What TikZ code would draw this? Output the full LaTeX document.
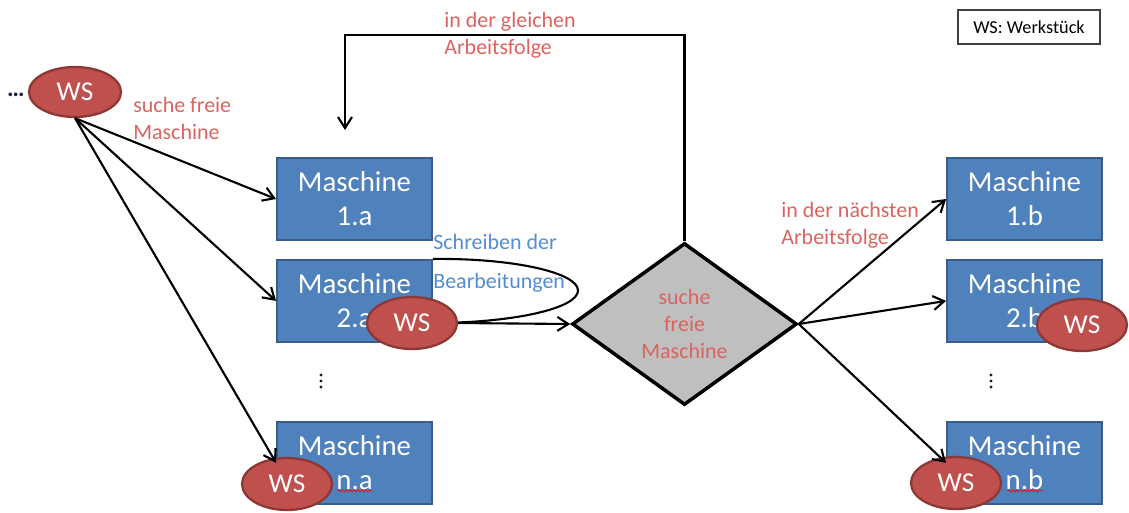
\documentclass[tikz,border=0pt]{standalone}
\usepackage{fontspec}
\setmainfont{Carlito}
\usetikzlibrary{shapes.geometric,arrows.meta,positioning,decorations.pathmorphing}
\definecolor{boxblue}{RGB}{79,129,189}
\definecolor{boxborder}{RGB}{56,93,138}
\definecolor{wsred}{RGB}{192,80,77}
\definecolor{wsborder}{RGB}{140,56,54}
\definecolor{notered}{RGB}{218,100,95}
\definecolor{noteblue}{RGB}{84,141,212}
\definecolor{diagray}{RGB}{191,191,191}
\definecolor{dotnavy}{RGB}{20,30,60}

\begin{document}
\begin{tikzpicture}[
 x=0.02cm, y=-0.02cm,
 maschine/.style={rectangle, draw=boxborder, fill=boxblue, line width=1.1pt, minimum width=3.1cm, minimum height=1.64cm, align=center, text=white, font=\fontsize{16.4}{19.4}\selectfont},
 ws/.style={ellipse, draw=wsborder, fill=wsred, line width=1.3pt, minimum width=1.8cm, minimum height=1.04cm, inner sep=0pt, text=white, font=\fontsize{15.5}{18}\selectfont},
 entscheid/.style={diamond, draw=black, fill=diagray, line width=2pt, minimum width=4.5cm, minimum height=3.24cm, aspect=1.39, inner sep=0pt, align=center, text=notered, font=\fontsize{12.5}{15.4}\selectfont},
 arrow/.style={-{Straight Barb[length=2.2mm,width=2.8mm]}, line width=1.2pt},
 hinweis/.style={anchor=west, align=left, inner sep=0pt, text=notered, font=\fontsize{12.5}{15.4}\selectfont},
 punkt/.style={fill=dotnavy},
 squiggle/.style={draw=red, line width=0.4pt, decorate, decoration={snake, amplitude=0.6pt, segment length=2.2pt}}
]
\useasboundingbox (0,0) rectangle (1129,512);

% Maschinen (a)
\node[maschine] (m1a) at (354.5,199) {Maschine\\1.a};
\node[maschine, below=0.36cm of m1a] (m2a) {Maschine\\2.a};
\node[maschine, below=1.56cm of m2a] (mna) {Maschine\\n.a};

% Maschinen (b)
\node[maschine] (m1b) at (1024.5,199) {Maschine\\1.b};
\node[maschine, below=0.36cm of m1b] (m2b) {Maschine\\2.b};
\node[maschine, below=1.56cm of m2b] (mnb) {Maschine\\n.b};

\foreach \px in {321,991}
 \foreach \py in {375,381,387}
  \fill[punkt] (\px,\py) circle[radius=1.6];

\draw[squiggle] (mna.center) ++(-17,28) -- ++(35,0);
\draw[squiggle] (mnb.center) ++(-17,28) -- ++(35,0);

% Entscheidung
\node[entscheid] (dia) at (684.5,324) {suche\\freie\\Maschine};

% Schleife
\coordinate (loopend) at (432,323);
\draw[line width=1.2pt] (m2a.north east) .. controls (512.6,258) and (578,272.5) .. (578,290.5)
 .. controls (578,308.5) and (512.6,323) .. (loopend);
\node[hinweis, text=noteblue] (schreiben) at (433,263.5) {Schreiben der\\[6.8pt]Bearbeitungen};

% Werkstuecke
\node[ws, minimum width=1.84cm, minimum height=1.0cm] (ws0) at (75,92) {WS};
\node[inner sep=0pt, text=dotnavy, font=\fontsize{14}{16}\selectfont\bfseries] (dots0) at (16,95) {\dots};
\node[ws] (ws2a) at (412,323) {WS};
\node[ws] (wsna) at (287,484) {WS};
\node[ws] (ws2b) at (1082,325) {WS};
\node[ws] (wsnb) at (956,483) {WS};

% Pfeile
\draw[arrow] (ws0.south) -- (m1a.west);
\draw[arrow] (ws0.south) -- (m2a.west);
\draw[arrow] (ws0.south) -- (mna.west);
\draw[arrow] (ws2a.east) -- (dia.west);
\draw[arrow] (dia.east) -- (m1b.west);
\draw[arrow] (dia.east) -- (m2b.west);
\draw[arrow] (dia.east) -- (mnb.west);

\coordinate (zurueck) at (345,130);
\draw[arrow] (dia.north) -- ++(0,-206) -| (zurueck);

% Beschriftungen
\node[hinweis] (suche) at (133,118.5) {suche freie\\Maschine};
\node[hinweis] (gleich) at (444,35.5) {in der gleichen\\Arbeitsfolge};
\node[hinweis] (naechst) at (781,225.5) {in der nächsten\\Arbeitsfolge};

% Legende
\node[draw=black!75, line width=0.8pt, minimum width=2.84cm, minimum height=0.68cm, font=\fontsize{10.4}{12}\selectfont] (legende) at (1029,27) {WS: Werkstück};

\end{tikzpicture}
\end{document}
